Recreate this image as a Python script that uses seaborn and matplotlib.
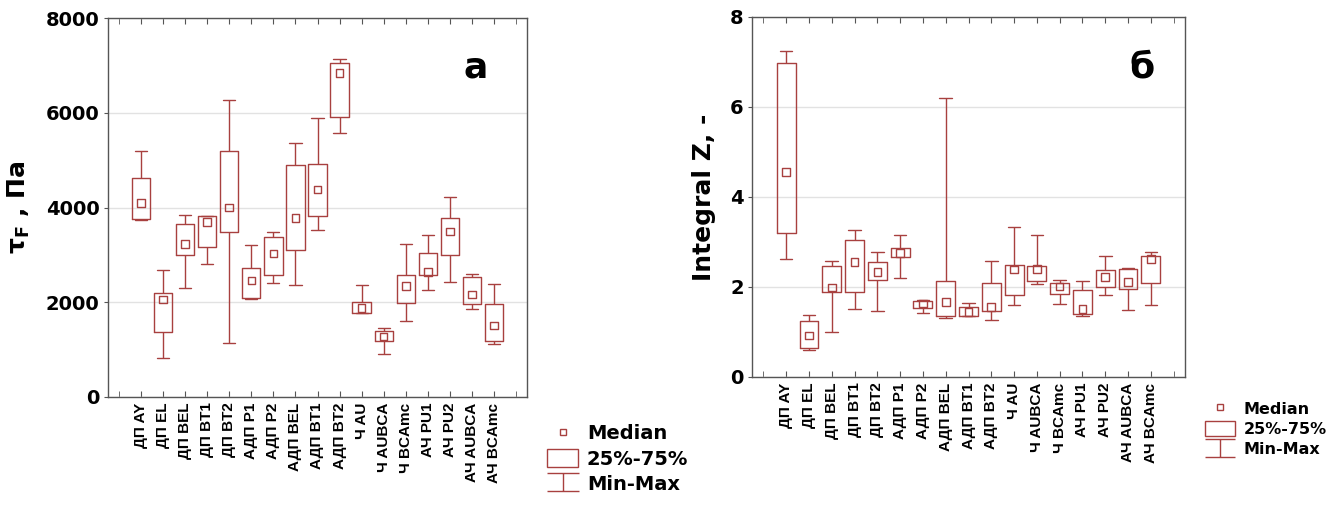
import numpy as np
import pandas as pd
import matplotlib
matplotlib.use("Agg")
import matplotlib.pyplot as plt
from matplotlib.lines import Line2D
from matplotlib.patches import Patch
from matplotlib.path import Path
import seaborn as sns

# ---------------- data ----------------
categories = ["ДП AY", "ДП EL", "ДП BEL", "ДП BT1", "ДП BT2", "АДП P1", "АДП P2",
              "АДП BEL", "АДП BT1", "АДП BT2", "Ч AU", "Ч AUBCA", "Ч BCAmc",
              "АЧ PU1", "АЧ PU2", "АЧ AUBCA", "АЧ BCAmc"]

tau_min = [3730, 816, 2301, 2807, 1133, 2062, 2406, 2371, 3525, 5573, 1766, 908, 1611, 2259, 2427, 1857, 1112]
tau_q1 = [3764, 1372, 2997, 3159, 3476, 2090, 2582, 3103, 3821, 5903, 1766, 1189, 1984, 2575, 2997, 1963, 1189]
tau_med = [4095, 2054, 3230, 3694, 4003, 2456, 3033, 3778, 4376, 6839, 1879, 1281, 2343, 2639, 3490, 2167, 1506]
tau_q3 = [4616, 2188, 3652, 3828, 5193, 2730, 3384, 4890, 4911, 7057, 2005, 1386, 2568, 3047, 3778, 2526, 1970]
tau_max = [5200, 2674, 3849, 3828, 6269, 3208, 3476, 5354, 5889, 7142, 2364, 1456, 3230, 3427, 4222, 2603, 2385]

z_min = [2.62, 0.59, 1.01, 1.51, 1.47, 2.20, 1.42, 1.31, 1.35, 1.27, 1.59, 2.07, 1.62, 1.36, 1.82, 1.50, 1.61]
z_q1 = [3.20, 0.64, 1.88, 1.88, 2.15, 2.66, 1.53, 1.35, 1.35, 1.46, 1.83, 2.14, 1.84, 1.41, 2.01, 1.96, 2.10]
z_med = [4.56, 0.92, 1.99, 2.55, 2.33, 2.76, 1.63, 1.67, 1.44, 1.56, 2.39, 2.40, 2.01, 1.51, 2.22, 2.11, 2.62]
z_q3 = [6.98, 1.25, 2.46, 3.04, 2.55, 2.87, 1.70, 2.13, 1.56, 2.09, 2.49, 2.47, 2.10, 1.93, 2.37, 2.39, 2.70]
z_max = [7.24, 1.385, 2.58, 3.27, 2.78, 3.15, 1.72, 6.20, 1.64, 2.57, 3.33, 3.16, 2.15, 2.13, 2.70, 2.43, 2.78]

tau_yticks = [0, 2000, 4000, 6000, 8000]
z_yticks = [0, 2, 4, 6, 8]
legend_labels = ["Median", "25%-75%", "Min-Max"]

# ---------------- style ----------------
sns.set_style("white")
plt.rcParams["font.family"] = ["DejaVu Sans"]
plt.rcParams["text.color"] = "black"
plt.rcParams["axes.labelcolor"] = "black"
COLOR = "#a8403f"
W, H = 1331, 516

fig = plt.figure(figsize=(W / 100, H / 100), dpi=100)


def frac_box(left, top, right, bottom):
    return [left / W, 1 - bottom / H, (right - left) / W, (bottom - top) / H]


def long_frame(mins, q1s, meds, q3s, maxs):
    rows = []
    for c, a, b, m, d, e in zip(categories, mins, q1s, meds, q3s, maxs):
        for v in (a, b, m, d, e):
            rows.append({"group": c, "value": v})
    return pd.DataFrame(rows)


def draw_panel(ax, mins, q1s, meds, q3s, maxs, yticks, ylabel):
    df = long_frame(mins, q1s, meds, q3s, maxs)
    sns.boxplot(data=df, x="group", y="value", order=categories, ax=ax,
                whis=np.inf, width=0.83, fill=False, color=COLOR,
                linewidth=1.0, showfliers=False,
                medianprops={"visible": False}, capwidths=0.55)
    med_df = pd.DataFrame({"group": categories, "value": meds})
    sns.scatterplot(data=med_df, x="group", y="value", ax=ax, marker="s",
                    s=30, facecolor="none", edgecolor=COLOR, linewidth=1.0,
                    zorder=5, legend=False)
    n = len(categories)
    ax.set_xlim(-1.5, n + 0.5)
    ax.set_xticks(range(n))
    ax.set_xticklabels(categories, rotation=90, fontsize=11,
                       fontweight="bold", family="Liberation Sans")
    ax.set_xticks([-1, n], minor=True)
    ax.set_ylim(yticks[0], yticks[-1])
    ax.set_yticks(yticks)
    ax.set_yticklabels([str(t) for t in yticks], fontsize=14, fontweight="bold")
    ax.grid(axis="y", color="#e2e2e2", linewidth=1.0)
    ax.grid(axis="x", visible=False)
    ax.tick_params(axis="x", which="both", direction="in", top=True,
                   bottom=True, length=4, color="#555555", pad=4,
                   labelcolor="black")
    ax.tick_params(axis="y", direction="out", length=3, color="#555555",
                   left=True, right=False, pad=3, labelcolor="black")
    for sp in ax.spines.values():
        sp.set_color("#555555")
        sp.set_linewidth(1.0)
    ax.set_xlabel("")
    ax.set_ylabel(ylabel, fontsize=18, fontweight="bold", labelpad=10,
                  color="black")


def panel_legend(fig, x, y, fs, hlen, spacing, tpad):
    i_path = Path([(-1, 0.6), (1, 0.6), (0, 0.6), (0, -0.6), (-1, -0.6), (1, -0.6)],
                  [Path.MOVETO, Path.LINETO, Path.MOVETO, Path.LINETO,
                   Path.MOVETO, Path.LINETO])
    hlen_pt = hlen * fs
    handles = [
        Line2D([], [], linestyle="none", marker="s", markersize=5,
               markerfacecolor="none", markeredgecolor=COLOR, markeredgewidth=1.0),
        Patch(facecolor="none", edgecolor=COLOR, linewidth=1.0),
        Line2D([], [], linestyle="none", marker=i_path, markersize=hlen_pt,
               markerfacecolor="none", markeredgecolor=COLOR, markeredgewidth=1.0),
    ]
    fig.legend(handles, legend_labels, loc="upper left",
               bbox_to_anchor=(x / W, 1 - y / H), bbox_transform=fig.transFigure,
               frameon=False, borderpad=0, borderaxespad=0,
               handlelength=hlen, handleheight=1.0,
               handletextpad=tpad, labelspacing=spacing,
               prop={"weight": "bold", "size": fs})


ax1 = fig.add_axes(frac_box(108, 18, 527, 397))
draw_panel(ax1, tau_min, tau_q1, tau_med, tau_q3, tau_max, tau_yticks,
           "τ$_{\\mathbf{F}}$ , Па")

ax2 = fig.add_axes(frac_box(752, 17, 1185, 377))
draw_panel(ax2, z_min, z_q1, z_med, z_q3, z_max, z_yticks,
           "Integral Z, -")

fig.text(476 / W, 1 - 68 / H, "a", fontsize=26, fontweight="bold",
         ha="center", va="center")
fig.text(1142 / W, 1 - 68 / H, "б", fontsize=26, fontweight="bold",
         ha="center", va="center")

panel_legend(fig, 547, 424, 14, 1.6, 0.3, 0.45)
panel_legend(fig, 1205, 401, 11.5, 1.9, 0.3, 0.5)

fig.savefig("out.png", dpi=100)
